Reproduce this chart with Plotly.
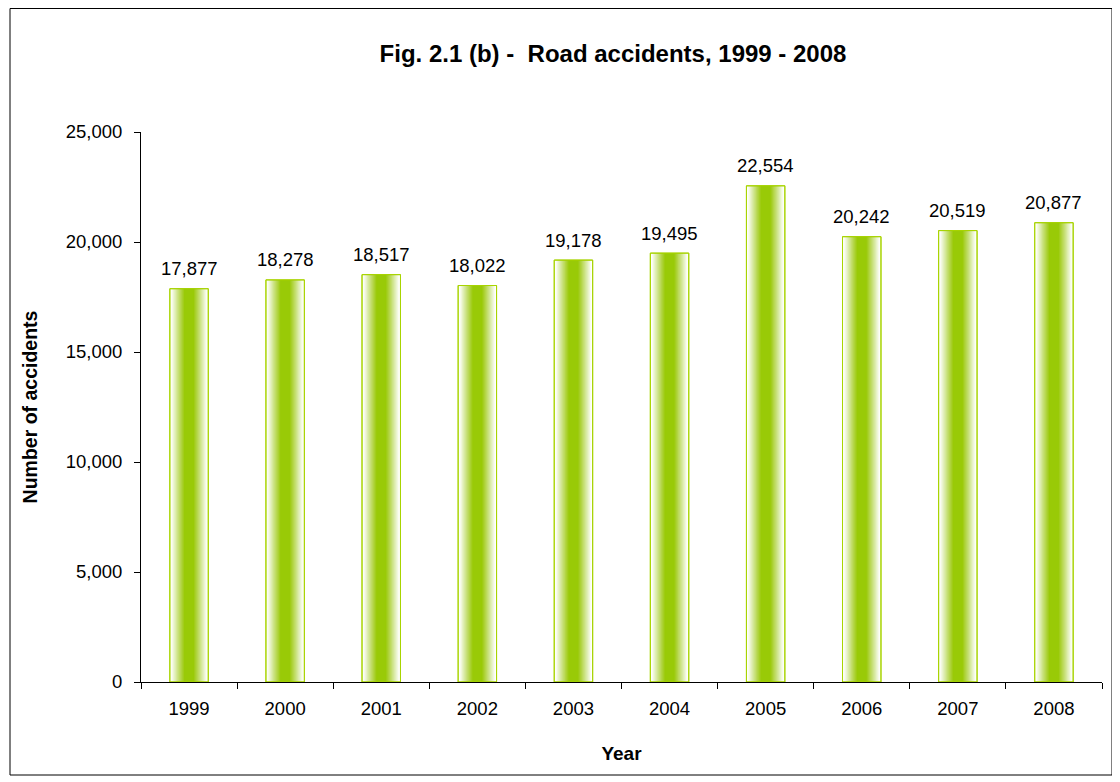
import plotly.graph_objects as go

years = ["1999", "2000", "2001", "2002", "2003", "2004", "2005", "2006", "2007", "2008"]
accidents = [17877, 18278, 18517, 18022, 19178, 19495, 22554, 20242, 20519, 20877]
labels = [f"{v:,}" for v in accidents]

FONT = "Liberation Sans, Arial, sans-serif"
BAR_W = 0.4
fig = go.Figure()

# white base bar with outline
fig.add_trace(go.Bar(x=years, y=accidents, width=BAR_W,
                     marker=dict(color="white", line=dict(color="#a8d400", width=1)),
                     hoverinfo="skip", showlegend=False))

# horizontal gradient: nested translucent layers, white at edges -> green in centre
n = 12
prev = 0.0
for k in range(n):
    frac = k / (n - 1)
    d = 0.92 - frac * (0.92 - 0.26)          # half-width fraction of this layer
    target = 0.06 + frac * (0.97 - 0.06)     # cumulative opacity inside this layer
    a = 1 - (1 - target) / (1 - prev)
    prev = target
    fig.add_trace(go.Bar(x=years, y=accidents, width=BAR_W * d,
                         marker=dict(color=f"rgba(150,200,0,{a:.3f})", line=dict(width=0)),
                         hoverinfo="skip", showlegend=False))

# outline on top
fig.add_trace(go.Bar(x=years, y=accidents, width=BAR_W,
                     marker=dict(color="rgba(0,0,0,0)", line=dict(color="#a8d400", width=1)),
                     showlegend=False))

# value labels: category axis positions are the category indices
for i, (y, t) in enumerate(zip(accidents, labels)):
    fig.add_annotation(x=i, y=y, xref="x", yref="y", text=t, showarrow=False,
                       yanchor="middle", yshift=20,
                       font=dict(family=FONT, size=18.5, color="black"))

W, H = 1108, 770
L, R, T, B = 133, 1094, 124, 674
fig.update_layout(
    width=W, height=H,
    barmode="overlay",
    paper_bgcolor="white", plot_bgcolor="white",
    margin=dict(l=L, r=W - R, t=T, b=H - B, pad=0),
    font=dict(family=FONT, size=18, color="black"),
    title=dict(text="<b>Fig. 2.1 (b) -&nbsp; Road accidents, 1999 - 2008</b>",
               x=(613 - 8) / W, xanchor="center", y=1 - 46 / H, yanchor="middle",
               font=dict(family=FONT, size=24, color="black")),
    xaxis=dict(type="category", range=[-0.5, len(years) - 0.5], autorange=False,
               showline=True, linecolor="black", linewidth=1,
               ticks="outside", ticklen=6, tickcolor="black", tickson="boundaries",
               showgrid=False, tickfont=dict(size=18.5), ticklabelstandoff=10,
               tickangle=0,
               title=dict(text="<b>Year</b>", font=dict(size=19), standoff=28)),
    yaxis=dict(range=[0, 25000], autorange=False, dtick=5000, tickformat=",",
               showline=True, linecolor="black", linewidth=1, ticks="outside", ticklen=6,
               tickcolor="black", showgrid=False, zeroline=False,
               tickfont=dict(size=18.5), ticklabelstandoff=8,
               title=dict(text="<b>Number of accidents</b>", font=dict(size=19.5), standoff=22)),
)

pw, ph = R - L, B - T
fig.add_shape(type="rect", xref="paper", yref="paper",
              x0=(2 - L) / pw, x1=(1104 - L) / pw,
              y0=(B - 767) / ph, y1=(B - 0.5) / ph,
              line=dict(color="black", width=1), fillcolor="rgba(0,0,0,0)", layer="below")

fig.write_html("out.html")
